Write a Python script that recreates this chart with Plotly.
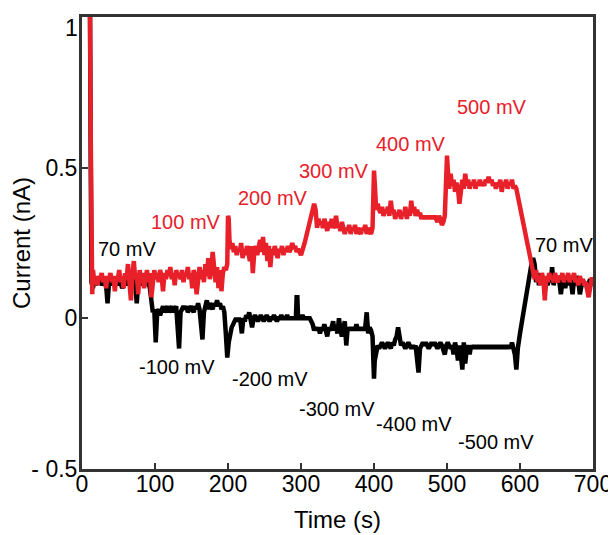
import plotly.graph_objects as go

# ---- data ----
red_t = [9, 11, 12, 13, 14, 15, 17, 19, 21, 23, 25, 27, 29, 31, 33, 35, 37, 39, 41, 43, 45, 47, 49, 51, 53, 55, 57, 59, 61, 63, 65, 67, 69, 71, 73, 75, 77, 79, 81, 83, 85, 87, 89, 91, 93, 95, 97, 99,
         101, 103, 105, 107, 109, 111, 113, 115, 117, 119, 121, 123, 125, 127, 129, 131, 133, 135, 137, 139, 141, 143, 145, 147, 149, 151, 153, 155, 157, 159, 161, 163, 165, 167, 169, 171, 173, 175, 177, 179, 181, 183, 185, 187, 189, 191, 193, 195, 197, 199, 200, 201, 202, 204, 206,
         208, 210, 212, 214, 216, 218, 220, 222, 224, 226, 228, 230, 232, 234, 236, 238, 240, 242, 244, 246, 248, 250, 252, 254, 256, 258, 260, 262, 264, 266, 268, 270, 272, 274, 276, 278, 280, 282, 284, 286, 288, 290, 292, 294, 296, 298, 300,
         305, 310, 315, 318, 320, 322, 324, 326, 328, 330, 332, 334, 336, 338, 340, 342, 344, 346, 348, 350, 352, 354, 356, 358, 360, 362, 364, 366, 368, 370, 372, 374, 376, 378, 380, 382, 384, 386, 388, 390, 392, 394, 396, 398, 399, 400, 401, 403, 405, 407,
         409, 411, 413, 415, 417, 419, 421, 423, 425, 427, 429, 431, 433, 435, 437, 439, 441, 443, 445, 447, 449, 451, 453, 455, 457, 459, 461, 463, 465, 467, 469, 471, 473, 475, 477, 479, 481, 483, 485, 487, 489, 491, 493, 495, 497, 499, 500, 501, 503, 505, 507, 509, 511, 513, 515, 517, 519, 521, 523, 525, 527, 529, 531, 533, 535, 537, 539, 541, 543, 545, 547, 549, 551, 553, 555, 557, 559, 561, 563, 565, 567, 569, 571, 573, 575, 577, 579, 581, 583, 585, 587, 589, 591, 593, 595,
         600, 605, 610, 615, 618, 620, 622, 624, 626, 628, 630, 632, 634, 636, 638, 640, 642, 644, 646, 648, 650, 652, 654, 656, 658, 660, 662, 664, 666, 668, 670, 672, 674, 676, 678, 680, 682, 684, 686, 688, 690, 692, 694, 696, 698, 700]
red_i = [1.05, 1.02, 0.6, 0.15, 0.08, 0.16, 0.12, 0.14, 0.11, 0.14, 0.13, 0.15, 0.12, 0.14, 0.10, 0.14, 0.13, 0.15, 0.12, 0.14, 0.09, 0.14, 0.13, 0.16, 0.12, 0.14, 0.10, 0.15, 0.13, 0.18, 0.12, 0.06, 0.14, 0.19, 0.13, 0.15, 0.08, 0.16, 0.13, 0.15, 0.10, 0.14, 0.16, 0.12, 0.15, 0.07, 0.14, 0.16,
         0.13, 0.15, 0.12, 0.16, 0.14, 0.09, 0.15, 0.13, 0.16, 0.14, 0.17, 0.13, 0.15, 0.11, 0.16, 0.14, 0.15, 0.13, 0.16, 0.12, 0.15, 0.14, 0.17, 0.13, 0.15, 0.10, 0.16, 0.14, 0.08, 0.15, 0.17, 0.13, 0.16, 0.12, 0.18, 0.14, 0.20, 0.13, 0.16, 0.22, 0.15, 0.12, 0.17, 0.10, 0.16, 0.09, 0.15, 0.17, 0.16, 0.18, 0.34, 0.33, 0.26, 0.23, 0.25,
         0.22, 0.24, 0.21, 0.23, 0.22, 0.25, 0.20, 0.23, 0.21, 0.24, 0.22, 0.19, 0.24, 0.15, 0.22, 0.24, 0.21, 0.23, 0.26, 0.22, 0.27, 0.21, 0.25, 0.19, 0.24, 0.17, 0.23, 0.21, 0.24, 0.22, 0.20, 0.23, 0.22, 0.24, 0.21, 0.23, 0.22, 0.24, 0.22, 0.23, 0.25, 0.23, 0.24, 0.22, 0.23, 0.22, 0.21,
         0.25, 0.30, 0.35, 0.38, 0.36, 0.30, 0.33, 0.31, 0.32, 0.30, 0.33, 0.31, 0.29, 0.32, 0.30, 0.33, 0.30, 0.31, 0.34, 0.30, 0.31, 0.29, 0.32, 0.30, 0.28, 0.30, 0.29, 0.31, 0.28, 0.30, 0.29, 0.31, 0.28, 0.30, 0.29, 0.28, 0.30, 0.29, 0.31, 0.28, 0.30, 0.29, 0.28, 0.30, 0.38, 0.49, 0.45, 0.36, 0.38, 0.36,
         0.35, 0.37, 0.34, 0.36, 0.35, 0.37, 0.34, 0.39, 0.35, 0.36, 0.33, 0.35, 0.34, 0.36, 0.33, 0.35, 0.34, 0.37, 0.33, 0.36, 0.34, 0.39, 0.35, 0.37, 0.34, 0.36, 0.34, 0.35, 0.33, 0.34, 0.33, 0.34, 0.33, 0.34, 0.33, 0.34, 0.33, 0.34, 0.33, 0.32, 0.34, 0.33, 0.31, 0.32, 0.34, 0.45, 0.54, 0.50, 0.43, 0.48, 0.44, 0.46, 0.42, 0.45, 0.43, 0.38, 0.44, 0.46, 0.43, 0.48, 0.44, 0.46, 0.43, 0.45, 0.44, 0.46, 0.43, 0.45, 0.44, 0.46, 0.44, 0.45, 0.44, 0.46, 0.45, 0.47, 0.45, 0.46, 0.44, 0.45, 0.43, 0.45, 0.44, 0.46, 0.42, 0.45, 0.44, 0.46, 0.43, 0.45, 0.44, 0.46, 0.43, 0.44, 0.43,
         0.37, 0.30, 0.24, 0.18, 0.15, 0.13, 0.16, 0.12, 0.14, 0.11, 0.15, 0.13, 0.06, 0.14, 0.12, 0.15, 0.13, 0.14, 0.12, 0.15, 0.13, 0.12, 0.14, 0.13, 0.15, 0.12, 0.14, 0.13, 0.15, 0.12, 0.14, 0.13, 0.15, 0.12, 0.13, 0.11, 0.14, 0.12, 0.13, 0.11, 0.12, 0.10, 0.07, 0.10, 0.13, 0.13]

black_t = [9, 11, 12, 13, 15, 17, 19, 21, 23, 25, 27, 29, 31, 33, 35, 37, 39, 41, 43, 45, 47, 49, 51, 53, 55, 57, 59, 61, 63, 65, 67, 69, 71, 73, 75, 77, 79, 81, 83, 85, 87, 89, 91, 93, 95, 97, 99,
           101, 103, 105, 107, 109, 111, 113, 115, 117, 119, 121, 123, 125, 127, 129, 131, 133, 135, 137, 139, 141, 143, 145, 147, 149, 151, 153, 155, 157, 159, 161, 163, 165, 167, 169, 171, 173, 175, 177, 179, 181, 183, 185, 187, 189, 191, 193, 195, 197, 199,
           201, 203, 205, 207, 209, 211, 213, 215, 217, 219, 221, 223, 225, 227, 229, 231, 233, 235, 237, 239, 241, 243, 245, 247, 249, 251, 253, 255, 257, 259, 261, 263, 265, 267, 269, 271, 273, 275, 277, 279, 281, 283, 285, 287, 289, 291, 293, 294, 295, 296, 298, 300,
           302, 304, 306, 308, 310, 312, 314, 316, 318, 320, 322, 324, 326, 328, 330, 332, 334, 336, 338, 340, 342, 344, 346, 348, 350, 352, 354, 356, 358, 360, 362, 364, 366, 368, 370, 372, 374, 376, 378, 380, 382, 384, 386, 388, 390, 392, 394, 396, 398, 399, 400, 401, 403, 405, 407,
           409, 411, 413, 415, 417, 419, 421, 423, 425, 427, 429, 431, 433, 435, 437, 439, 441, 443, 445, 447, 449, 451, 453, 455, 457, 459, 461, 463, 465, 467, 469, 471, 473, 475, 477, 479, 481, 483, 485, 487, 489, 491, 493, 495, 497, 499,
           501, 503, 505, 507, 509, 511, 513, 515, 517, 519, 521, 523, 525, 527, 529, 531, 533, 535, 537, 539, 541, 543, 545, 547, 549, 551, 553, 555, 557, 559, 561, 563, 565, 567, 569, 571, 573, 575, 577, 579, 581, 583, 585, 587, 589, 591, 593, 595, 597,
           600, 605, 610, 615, 618, 620, 622, 624, 626, 628, 630, 632, 634, 636, 638, 640, 642, 644, 646, 648, 650, 652, 654, 656, 658, 660, 662, 664, 666, 668, 670, 672, 674, 676, 678, 680, 682, 684, 686, 688, 690, 692, 694, 696, 698, 700]
black_i = [1.03, 1.0, 0.5, 0.12, 0.10, 0.13, 0.11, 0.13, 0.12, 0.13, 0.11, 0.12, 0.13, 0.11, 0.05, 0.12, 0.13, 0.11, 0.12, 0.13, 0.12, 0.11, 0.13, 0.12, 0.10, 0.12, 0.13, 0.11, 0.12, 0.13, 0.11, 0.12, 0.13, 0.11, 0.05, 0.12, 0.13, 0.11, 0.12, 0.13, 0.12, 0.11, 0.12, 0.10, 0.06, 0.02, 0.03,
           -0.08, 0.02, 0.03, 0.01, 0.03, 0.04, 0.02, 0.03, 0.04, 0.02, 0.03, 0.04, 0.02, 0.03, 0.04, -0.03, -0.10, 0.02, 0.03, 0.04, 0.03, 0.04, 0.02, 0.03, 0.04, 0.03, 0.02, 0.04, 0.03, 0.05, 0.03, -0.02, -0.07, 0.02, 0.04, 0.06, 0.03, 0.05, 0.04, 0.03, 0.05, 0.04, 0.06, 0.04, 0.05, 0.03, 0.04, 0.02, -0.05, -0.13,
           -0.08, -0.05, -0.03, -0.02, -0.01, 0.0, -0.01, 0.0, -0.01, -0.05, 0.0, -0.01, 0.01, 0.0, 0.02, -0.01, -0.03, 0.0, 0.01, 0.0, -0.01, 0.0, 0.01, 0.0, -0.01, 0.0, 0.01, 0.0, -0.01, 0.0, 0.0, 0.01, 0.0, -0.01, 0.0, 0.0, 0.01, 0.0, 0.0, 0.0, 0.01, 0.0, 0.0, 0.0, 0.0, 0.0, 0.0, 0.07, 0.07, 0.0, 0.0, 0.0,
           0.01, 0.0, 0.0, 0.0, 0.0, 0.0, -0.01, -0.02, -0.04, -0.03, -0.04, -0.03, -0.05, -0.03, -0.04, -0.02, -0.04, -0.06, -0.03, -0.04, -0.03, -0.01, -0.04, -0.03, -0.05, -0.0, -0.04, -0.06, -0.03, -0.01, -0.09, -0.03, -0.04, -0.03, -0.04, -0.03, -0.04, -0.02, -0.04, -0.03, -0.04, -0.03, -0.04, -0.03, 0.02, -0.05, -0.03, -0.04, -0.06, -0.12, -0.20, -0.14, -0.11, -0.09, -0.10,
           -0.09, -0.08, -0.09, -0.10, -0.09, -0.08, -0.09, -0.10, -0.08, -0.09, -0.07, -0.06, -0.03, -0.06, -0.09, -0.08, -0.09, -0.10, -0.09, -0.08, -0.09, -0.10, -0.09, -0.10, -0.09, -0.13, -0.18, -0.10, -0.09, -0.08, -0.09, -0.08, -0.09, -0.10, -0.09, -0.08, -0.09, -0.08, -0.09, -0.10, -0.09, -0.08, -0.09, -0.11, -0.12, -0.09,
           -0.08, -0.09, -0.10, -0.09, -0.12, -0.08, -0.10, -0.14, -0.09, -0.12, -0.17, -0.08, -0.15, -0.10, -0.09, -0.12, -0.09, -0.10, -0.09, -0.10, -0.09, -0.10, -0.09, -0.10, -0.09, -0.10, -0.09, -0.10, -0.09, -0.10, -0.09, -0.10, -0.09, -0.10, -0.09, -0.10, -0.09, -0.10, -0.09, -0.10, -0.09, -0.10, -0.09, -0.10, -0.08, -0.10, -0.12, -0.17, -0.10,
           -0.05, 0.03, 0.10, 0.17, 0.20, 0.18, 0.12, 0.15, 0.11, 0.14, 0.12, 0.13, 0.09, 0.12, 0.11, 0.14, 0.12, 0.17, 0.11, 0.13, 0.12, 0.14, 0.12, 0.08, 0.12, 0.14, 0.10, 0.13, 0.11, 0.14, 0.12, 0.08, 0.13, 0.11, 0.14, 0.12, 0.08, 0.12, 0.13, 0.11, 0.12, 0.10, 0.12, 0.13, 0.11, 0.12]

label_text = ["70 mV", "100 mV", "200 mV", "300 mV", "400 mV", "500 mV", "70 mV",
              "-100 mV", "-200 mV", "-300 mV", "-400 mV", "-500 mV"]
label_t = [61, 142, 261, 345, 450, 561, 660, 130, 258, 349, 455, 567]
label_i = [0.23, 0.32, 0.40, 0.49, 0.58, 0.70, 0.245, -0.16, -0.20, -0.30, -0.35, -0.41]
label_color = ["black", "red", "red", "red", "red", "red", "black",
               "black", "black", "black", "black", "black"]

x_ticks = [0, 100, 200, 300, 400, 500, 600, 700]
y_ticks = [-0.5, 0, 0.5, 1]
# the top label "1" sits just below its tick in the reference; drawn as an annotation
y_ticktext = ["- 0.5", "0", "0.5", ""]
y_top_label = "1"

RED = "#e8202a"
FONT = "Liberation Sans, Arial, sans-serif"

fig = go.Figure()
fig.add_trace(go.Scatter(x=black_t, y=black_i, mode="lines",
                         line=dict(color="black", width=4.5), showlegend=False))
fig.add_trace(go.Scatter(x=red_t, y=red_i, mode="lines",
                         line=dict(color=RED, width=4.5), showlegend=False))

for txt, t, i, c in zip(label_text, label_t, label_i, label_color):
    fig.add_annotation(x=t, y=i, text=txt, showarrow=False,
                       font=dict(family=FONT, size=20, color=RED if c == "red" else "black"))

fig.add_annotation(x=0, xref="paper", xanchor="right", xshift=-2,
                   y=y_ticks[-1], yref="y", yanchor="top", yshift=4,
                   text=y_top_label, showarrow=False,
                   font=dict(family=FONT, size=23, color="black"))

# page body adds 8px margin, so the figure is drawn 8px smaller
fig.update_layout(
    width=608, height=527,
    margin=dict(l=74, r=23, t=9, b=66),
    plot_bgcolor="white", paper_bgcolor="white",
    font=dict(family=FONT, size=23, color="black"),
)
fig.update_xaxes(range=[0, 700], tickvals=x_ticks, ticks="inside", ticklen=6, tickwidth=2,
                 tickcolor="#333", showline=True, linecolor="#333", linewidth=3, mirror=True,
                 showgrid=False, zeroline=False, automargin=False, ticklabelstandoff=-8,
                 ticklabeloverflow="allow",
                 title=dict(text="Time (s)", font=dict(size=24), standoff=16))
fig.update_yaxes(range=[-0.5, 1], tickvals=y_ticks, ticktext=y_ticktext, ticks="inside",
                 ticklen=6, tickwidth=2, tickcolor="#333", showline=True, linecolor="#333",
                 linewidth=3, mirror=True, showgrid=False, zeroline=False, automargin=False,
                 ticklabelstandoff=-3, ticklabeloverflow="allow",
                 title=dict(text="Current (nA)", font=dict(size=24), standoff=4))

fig.write_html("out.html")
